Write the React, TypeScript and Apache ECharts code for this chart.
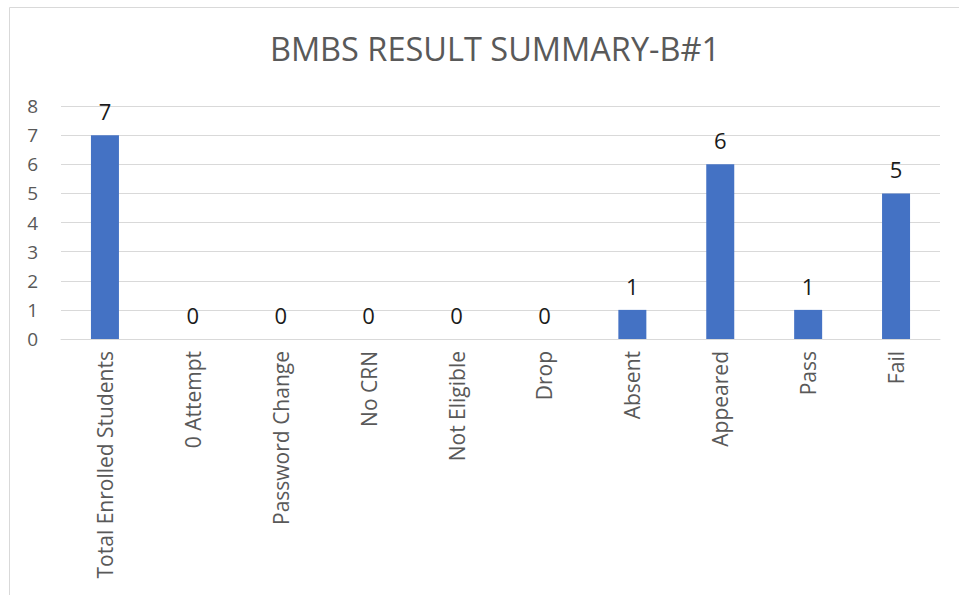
import React, { useEffect, useRef } from "react";
import * as echarts from "echarts";

const categories = [
  "Total Enrolled Students",
  "0 Attempt",
  "Password Change",
  "No CRN",
  "Not Eligible",
  "Drop",
  "Absent",
  "Appeared",
  "Pass",
  "Fail",
];
const values = [7, 0, 0, 0, 0, 0, 1, 6, 1, 5];
const titleText = "BMBS RESULT SUMMARY-B#1";
const yMin = 0;
const yMax = 8;
const yInterval = 1;

const FONT = "'Open Sans', 'Noto Sans', sans-serif";

export default function App() {
  const ref = useRef<HTMLDivElement>(null);
  useEffect(() => {
    if (!ref.current) return;
    const chart = echarts.init(ref.current, undefined, { renderer: "svg" });
    chart.setOption({
      animation: false,
      backgroundColor: "#ffffff",
      title: {
        text: titleText,
        left: 490,
        textAlign: "center",
        top: 27,
        textStyle: {
          fontFamily: FONT,
          fontSize: 32.5,
          fontWeight: "normal",
          color: "#595959",
        },
      },
      graphic: [
        {
          type: "rect",
          shape: { x: 9.5, y: 7.5, width: 1000, height: 700 },
          style: { fill: "none", stroke: "#d9d9d9", lineWidth: 1 },
          silent: true,
        },
      ],
      grid: { left: 61, right: 19, top: 106, bottom: 256, containLabel: false },
      xAxis: {
        type: "category",
        data: categories,
        axisLine: { show: true, lineStyle: { color: "#d9d9d9", width: 1 } },
        axisTick: { show: false },
        axisLabel: {
          rotate: 90,
          interval: 0,
          margin: 12,
          fontFamily: FONT,
          fontSize: 21,
          color: "#595959",
        },
      },
      yAxis: {
        type: "value",
        min: yMin,
        max: yMax,
        interval: yInterval,
        axisLine: { show: false },
        axisTick: { show: false },
        splitLine: { lineStyle: { color: "#d9d9d9", width: 1 } },
        axisLabel: {
          margin: 23,
          fontFamily: FONT,
          fontSize: 19,
          color: "#595959",
        },
      },
      series: [
        {
          type: "bar",
          data: values,
          barWidth: 28,
          itemStyle: { color: "#4472C4" },
          label: {
            show: true,
            position: "top",
            distance: 13,
            fontFamily: FONT,
            fontSize: 22,
            color: "#1a1a1a",
          },
        },
      ],
    });
    return () => chart.dispose();
  }, []);
  return (
    <div
      ref={ref}
      style={{ position: "fixed", left: 0, top: 0, width: 959, height: 595 }}
    />
  );
}
